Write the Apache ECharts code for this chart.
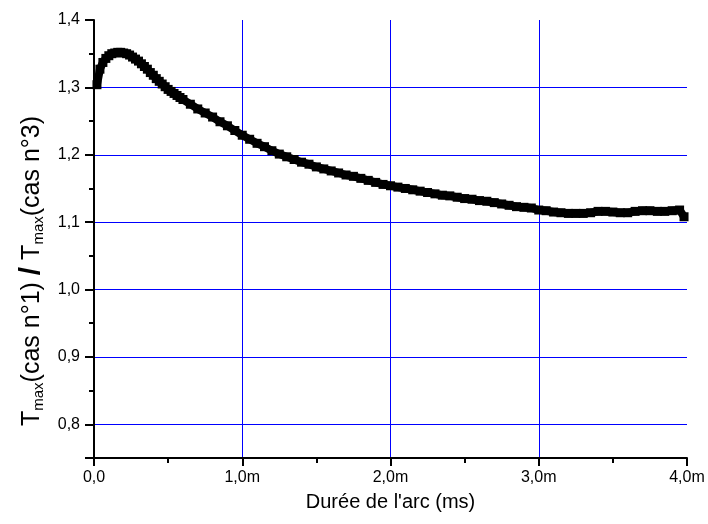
<!DOCTYPE html>
<html>
<head>
<meta charset="utf-8">
<script src="https://cdn.jsdelivr.net/npm/echarts@6/dist/echarts.min.js"></script>
<style>html,body{margin:0;padding:0;background:#fff}#c{width:708px;height:524px}</style>
</head>
<body>
<div id="c"></div>
<script>
// Durée de l'arc (ms)
const times = [
  0.02, 0.04, 0.06, 0.08, 0.10, 0.12, 0.14, 0.16, 0.18, 0.20,
  0.22, 0.24, 0.26, 0.28, 0.30, 0.32, 0.34, 0.36, 0.38, 0.40,
  0.42, 0.44, 0.46, 0.48, 0.50, 0.52, 0.54, 0.56, 0.58, 0.60,
  0.65, 0.70, 0.75, 0.80, 0.85, 0.90, 0.95, 1.00, 1.05, 1.10,
  1.15, 1.20, 1.25, 1.30, 1.35, 1.40, 1.45, 1.50, 1.55, 1.60,
  1.65, 1.70, 1.75, 1.80, 1.85, 1.90, 1.95, 2.00, 2.05, 2.10,
  2.15, 2.20, 2.25, 2.30, 2.35, 2.40, 2.45, 2.50, 2.55, 2.60,
  2.65, 2.70, 2.75, 2.80, 2.85, 2.90, 2.95, 3.00, 3.05, 3.10,
  3.15, 3.20, 3.25, 3.30, 3.35, 3.40, 3.45, 3.50, 3.55, 3.60,
  3.65, 3.70, 3.75, 3.80, 3.85, 3.90, 3.95, 3.98
];
// Tmax(cas n°1) / Tmax(cas n°3)
const ratio = [
  1.304, 1.327, 1.337, 1.343, 1.347, 1.350, 1.351, 1.352, 1.352, 1.351,
  1.350, 1.348, 1.345, 1.342, 1.339, 1.335, 1.331, 1.327, 1.322, 1.318,
  1.313, 1.309, 1.305, 1.301, 1.297, 1.294, 1.291, 1.288, 1.285, 1.282,
  1.275, 1.268, 1.262, 1.256, 1.249, 1.243, 1.236, 1.229, 1.223, 1.217,
  1.212, 1.206, 1.201, 1.197, 1.193, 1.189, 1.186, 1.182, 1.179, 1.176,
  1.173, 1.170, 1.168, 1.165, 1.162, 1.159, 1.156, 1.154, 1.152, 1.150,
  1.148, 1.146, 1.144, 1.142, 1.140, 1.139, 1.137, 1.135, 1.134, 1.132,
  1.131, 1.129, 1.127, 1.125, 1.123, 1.122, 1.121, 1.118, 1.117, 1.115,
  1.114, 1.113, 1.113, 1.113, 1.114, 1.116, 1.116, 1.115, 1.114, 1.114,
  1.116, 1.117, 1.117, 1.116, 1.116, 1.117, 1.118, 1.108
];
const xTickValues = [0, 1, 2, 3, 4];
const xTickLabels = ['0,0', '1,0m', '2,0m', '3,0m', '4,0m'];
const yTickValues = [0.8, 0.9, 1.0, 1.1, 1.2, 1.3, 1.4];
const yTickLabels = ['0,8', '0,9', '1,0', '1,1', '1,2', '1,3', '1,4'];

const FONT = 'Liberation Sans, Arial, sans-serif';
const chart = echarts.init(document.getElementById('c'), null, {renderer: 'canvas'});

function lookup(vals, labels, v) {
  for (let i = 0; i < vals.length; i++) if (Math.abs(vals[i] - v) < 1e-6) return labels[i];
  return '';
}

chart.setOption({
  animation: false,
  backgroundColor: '#ffffff',
  grid: {left: 94, right: 21, top: 20, bottom: 66, containLabel: false},
  xAxis: {
    type: 'value', min: 0, max: 4, interval: 1,
    name: "Durée de l'arc (ms)", nameLocation: 'middle', nameGap: 34,
    nameTextStyle: {fontFamily: FONT, fontSize: 20, color: '#000'},
    axisLine: {show: true, onZero: false, lineStyle: {color: '#000', width: 2}},
    axisTick: {show: true, inside: false, length: 8, lineStyle: {color: '#000', width: 2}},
    minorTick: {show: true, splitNumber: 2, length: 5, lineStyle: {color: '#000', width: 2}},
    axisLabel: {margin: 12, fontFamily: FONT, fontSize: 16, color: '#000',
      formatter: v => lookup(xTickValues, xTickLabels, v)},
    splitLine: {show: true, showMinLine: false, showMaxLine: false, lineStyle: {color: '#0000ff', width: 1}}
  },
  yAxis: [{
    type: 'value', min: 0.75, max: 1.4, splitNumber: 7,
    axisLine: {show: true, onZero: false, lineStyle: {color: '#000', width: 2}},
    axisTick: {show: true, inside: false, length: 9, lineStyle: {color: '#000', width: 2}},
    axisLabel: {margin: 14, fontFamily: FONT, fontSize: 16, color: '#000',
      formatter: v => lookup(yTickValues, yTickLabels, v)},
    splitLine: {show: true, showMinLine: false, showMaxLine: false, lineStyle: {color: '#0000ff', width: 1}}
  }, {
    type: 'value', min: 0.75, max: 1.4, interval: 0.05, position: 'left', offset: 0,
    axisLine: {show: false},
    axisTick: {show: true, inside: false, length: 5, lineStyle: {color: '#000', width: 2}},
    axisLabel: {show: false},
    splitLine: {show: false}
  }],
  graphic: [{
    type: 'text', x: 32, y: 271, rotation: Math.PI / 2, z: 100,
    style: {
      text: '{t|T}{s|max}{t|(cas n°1) }{sl|/}{t| T}{s|max}{t|(cas n°3)}',
      textAlign: 'center', textVerticalAlign: 'middle',
      align: 'center', verticalAlign: 'middle',
      fill: '#000',
      rich: {
        t: {fontFamily: FONT, fontSize: 25, lineHeight: 28, fill: '#000', color: '#000', verticalAlign: 'middle'},
        s: {fontFamily: FONT, fontSize: 15, lineHeight: 19, fill: '#000', color: '#000', verticalAlign: 'bottom'},
        sl: {fontFamily: FONT, fontSize: 30, fontWeight: 'bold', lineHeight: 28, fill: '#000', color: '#000', verticalAlign: 'middle'}
      }
    }
  }],
  series: [{
    type: 'line',
    yAxisIndex: 0,
    symbol: 'rect', symbolSize: 9, showSymbol: true, showAllSymbol: true,
    lineStyle: {color: '#000', width: 8, opacity: 1},
    itemStyle: {color: '#000', opacity: 1, borderWidth: 0},
    emphasis: {disabled: true},
    data: times.map((t, i) => [t, ratio[i]])
  }]
});
</script>
</body>
</html>
